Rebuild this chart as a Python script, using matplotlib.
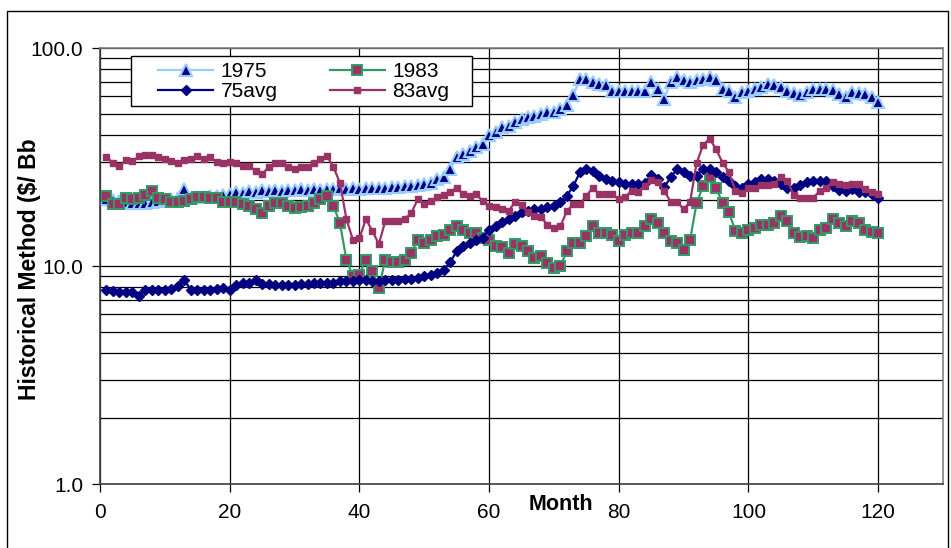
import matplotlib
matplotlib.use('Agg')
import matplotlib.pyplot as plt
import matplotlib.patches as patches
from matplotlib.ticker import LogLocator, FixedLocator, FormatStrFormatter, NullFormatter
import numpy as np

plt.rcParams['font.family'] = ['Liberation Sans', 'DejaVu Sans']

months = np.arange(1, 121)

# $/Bbl by month
s1975 = [20.3, 20.0, 19.8, 19.6, 19.5, 19.4, 19.5, 19.7, 19.9, 20.1, 20.3, 20.6,
         22.5,
         20.6, 20.7, 20.8, 20.9, 21.0, 21.2,
         21.5, 21.9, 21.6, 22.0, 21.8, 22.2, 22.0, 22.3, 22.1, 22.4, 22.2, 22.5, 22.3, 22.5, 22.4, 22.6,
         22.5, 22.7, 22.6, 22.7, 22.6, 22.8, 22.7, 22.8, 22.9, 23.0, 23.1, 23.2, 23.4, 23.6,
         23.7, 24.0, 25.0, 25.5, 27.8, 31.5, 32.6, 33.8, 35.0, 36.3, 39.7, 41.1, 43.3, 44.0,
         45.7, 47.3, 48.2, 49.0, 49.9, 50.7, 50.7, 52.7, 54.6, 60.6, 72.3, 72.0, 70.0,
         68.6, 67.3, 63.8, 63.8, 63.8, 63.8, 63.8, 63.8, 70.0, 65.0, 58.5, 70.0, 74.0, 71.0,
         70.0, 71.0, 72.0, 73.5, 71.0, 65.0, 63.8, 59.6, 63.0, 63.8,
         65.0, 66.0, 68.6, 67.3, 66.0, 63.8, 62.0, 61.0, 63.0, 65.0, 65.0, 65.0, 64.5, 61.7,
         59.6, 63.0, 62.0, 61.7, 59.6, 56.5]

s1983 = [21.0, 19.2, 19.2, 20.6, 20.2, 20.6, 21.1, 22.1, 20.6, 20.2, 19.7, 19.7, 19.9,
         20.4, 20.7, 20.7, 20.6, 20.6, 19.7, 19.6, 19.7, 19.2, 18.8, 18.3, 17.5,
         18.9, 19.4, 19.4, 18.9, 18.5, 18.7, 18.9, 19.5, 20.4, 20.9, 18.9, 15.7, 10.7, 9.0,
         9.1, 10.7, 9.5, 7.9, 10.7,
         10.4, 10.4, 10.7, 11.5, 13.2, 12.8,
         13.2, 13.7, 13.9, 14.7, 15.2, 14.7, 14.2, 14.2, 13.5, 13.2, 12.3, 12.2, 11.5, 12.6,
         12.3, 11.7, 10.9, 11.1, 10.3, 9.8, 10.0, 11.7, 12.8, 12.8, 13.7, 15.2,
         14.2, 14.2, 13.9, 13.0, 13.9, 14.2, 14.1, 15.2, 16.4, 15.7, 14.2, 13.0, 12.8, 11.8,
         13.2, 19.4, 23.3, 25.5, 22.9, 19.4, 17.6, 14.4, 14.1, 14.7, 15.0,
         15.4, 15.5, 15.8, 16.9, 16.1, 14.2, 13.6, 13.7, 13.5, 14.6, 15.0, 16.4, 15.7, 15.2,
         16.1, 15.7, 14.6, 14.3, 14.1]

avg75 = [7.8, 7.7, 7.6, 7.6, 7.6, 7.3, 7.75, 7.8, 7.8, 7.8, 7.85, 8.1, 8.6, 7.8, 7.8,
         7.8, 7.8, 7.85, 7.9, 7.8, 8.2, 8.4, 8.4, 8.6, 8.3,
         8.3, 8.2, 8.2, 8.2, 8.2, 8.3, 8.3, 8.4, 8.4, 8.4, 8.4, 8.5, 8.5, 8.5, 8.6, 8.6, 8.5,
         8.5, 8.6, 8.6, 8.6, 8.7, 8.75, 8.8, 9.0, 9.1, 9.3, 9.6, 10.4, 11.7, 12.3, 12.8,
         13.1, 13.5, 14.7, 15.2, 15.9, 16.4, 16.9, 17.6, 17.9, 18.2, 18.2, 18.6, 18.9,
         19.7, 21.0, 23.3, 26.9, 28.0, 27.4, 25.9, 25.0, 24.6, 24.4, 23.7, 23.9, 23.9, 24.0,
         26.1, 25.0, 23.0, 25.5, 27.8, 27.0, 25.8, 25.9, 27.8, 27.8, 27.0, 25.5, 24.6, 23.3,
         22.9, 23.7, 24.2,
         25.0, 25.1, 24.6, 23.7, 22.9, 22.9, 23.5, 24.2, 24.6, 24.6, 24.6, 23.3, 22.4, 22.1,
         22.5, 21.9, 21.8, 21.3, 20.6]

avg83 = [31.5, 29.8, 28.8, 30.7, 30.3, 31.8, 32.3, 32.3, 31.5, 31.0, 30.3, 29.8, 30.7,
         31.0, 31.8, 31.0, 31.5, 30.0, 29.6, 30.0, 29.8, 28.8, 28.8, 27.3, 26.4,
         28.4, 29.6, 29.6, 28.4, 27.8, 28.4, 28.6, 29.6, 30.9, 32.0, 28.4, 24.1, 16.4, 13.2,
         13.4, 16.4, 14.5, 12.6, 16.1,
         16.1, 16.1, 16.4, 17.5, 20.2, 19.2,
         19.9, 20.7, 21.1, 21.8, 22.9, 21.3, 21.0, 21.3, 19.9, 18.8, 18.6, 18.2, 17.9, 19.6,
         19.0, 17.6, 16.9, 16.7, 15.5, 15.0, 15.2, 17.9, 19.2, 19.2, 21.0, 22.9,
         21.3, 21.3, 21.3, 20.2, 20.8, 22.1, 21.8, 23.3, 24.7, 24.2, 22.1, 19.7, 19.7, 18.2,
         19.7, 29.6, 35.9, 38.3, 34.4, 29.8, 26.9, 22.1, 21.6, 22.7, 22.9,
         23.5, 23.6, 23.9, 25.5, 24.6, 21.1, 20.6, 20.6, 20.6, 22.1, 22.9, 24.3, 23.7, 23.5,
         23.9, 23.7, 22.5, 21.8, 21.3]

x_ticks = [0, 20, 40, 60, 80, 100, 120]
y_ticks = [1.0, 10.0, 100.0]

W, H = 951, 548
fig = plt.figure(figsize=(W / 100, H / 100), dpi=100)

# outer chart border
fig.patches.append(patches.Rectangle((7 / W, -0.2), 941 / W, 1.2 - 11 / H,
                                     transform=fig.transFigure, fill=False,
                                     edgecolor='black', lw=1.0))

ax = fig.add_axes([100 / W, 1 - 484 / H, 843 / W, 436 / H])
ax.set_yscale('log')
ax.set_xlim(0, 130)
ax.set_ylim(1, 100)

l1, = ax.plot(months, s1975, color='#99CCFF', lw=1.6, marker='^', ms=8,
              mfc='#000080', mec='#99CCFF', mew=1.5, label='1975')
l2, = ax.plot(months, s1983, color='#339966', lw=1.6, marker='s', ms=7,
              mfc='#993366', mec='#339966', mew=1.4, label='1983')
l3, = ax.plot(months, avg75, color='#000080', lw=1.6, marker='D', ms=5.5,
              mfc='#000080', mec='#000080', label='75avg')
l4, = ax.plot(months, avg83, color='#993366', lw=1.6, marker='s', ms=5,
              mfc='#993366', mec='#993366', label='83avg')

ax.xaxis.set_major_locator(FixedLocator(x_ticks))
ax.yaxis.set_major_locator(FixedLocator(y_ticks))
ax.yaxis.set_major_formatter(FormatStrFormatter('%.1f'))
ax.yaxis.set_minor_locator(LogLocator(base=10, subs=np.arange(2, 10)))
ax.yaxis.set_minor_formatter(NullFormatter())
ax.grid(True, which='major', axis='both', color='black', lw=0.9)
ax.grid(True, which='minor', axis='y', color='black', lw=0.9)
ax.set_axisbelow(True)
ax.tick_params(axis='both', which='major', direction='out', length=6, width=0.9,
               labelsize=15, pad=6)
ax.tick_params(axis='y', which='minor', length=0)
ax.tick_params(axis='x', pad=8)

for side in ['left', 'bottom']:
    ax.spines[side].set_color('#404040')
    ax.spines[side].set_linewidth(1.2)
for side in ['top', 'right']:
    ax.spines[side].set_color('#808080')
    ax.spines[side].set_linewidth(1.2)

fig.text(30 / W, 1 - 269 / H, 'Historical Method ($/ Bb', rotation=90, fontsize=16.5,
         fontweight='bold', ha='center', va='center')
fig.text(561 / W, 1 - 505 / H, 'Month', fontsize=15.5, fontweight='bold',
         ha='center', va='center')

# legend: box drawn as a patch, entries on top of it
ax.add_patch(patches.Rectangle((131 / W, 1 - 106 / H), 341 / W, 50 / H,
                               transform=fig.transFigure, facecolor='white',
                               edgecolor='black', lw=1.0, zorder=4, clip_on=False))
leg = ax.legend(handles=[l1, l3, l2, l4], ncol=2, loc='upper left',
                bbox_to_anchor=(158 / W, 1 - 62 / H), bbox_transform=fig.transFigure,
                fontsize=15, frameon=False, borderaxespad=0, borderpad=0,
                handlelength=2.65, handletextpad=0.35, columnspacing=2.5,
                labelspacing=0.05)
leg.set_zorder(5)

fig.savefig('out.png', dpi=100)
